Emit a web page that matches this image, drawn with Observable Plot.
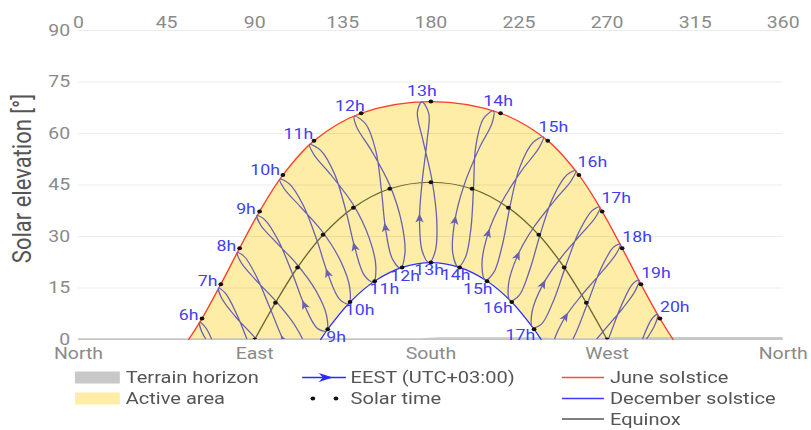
<!DOCTYPE html>
<html>
<head>
<meta charset="utf-8">
<script src="https://cdn.jsdelivr.net/npm/d3@7"></script>
<script src="https://cdn.jsdelivr.net/npm/@observablehq/plot@0.6"></script>
<style>
  html, body { margin: 0; padding: 0; background: #fff; }
  #wrap { width: 687px; height: 430px; transform: scaleX(1.1805); transform-origin: 0 0; }
  #wrap svg { display: block; }
</style>
</head>
<body>
<div id="wrap"></div>
<script>
// ---------------- data ----------------
const hours = [6, 7, 8, 9, 10, 11, 12, 13, 14, 15, 16, 17, 18, 19, 20];
const months = ["Dec", "Jan", "Feb", "Mar", "Apr", "May", "Jun", "Jul", "Aug", "Sep", "Oct", "Nov"];

// analemma per clock hour (EEST), one value per month (21st)
const analemmaAz = [
  [97.1, 91.9, 83.8, 77.1, 70.3, 65.0, 61.9, 63.1, 69.4, 79.1, 89.3, 96.1],
  [106.7, 101.9, 94.4, 87.7, 80.7, 75.0, 71.6, 73.1, 79.8, 89.7, 99.6, 106.0],
  [116.4, 111.7, 104.7, 98.3, 91.0, 84.8, 81.2, 82.9, 90.1, 100.3, 110.1, 116.0],
  [126.6, 122.1, 115.5, 109.4, 102.0, 95.3, 91.2, 93.1, 101.0, 111.6, 121.3, 126.7],
  [137.9, 133.4, 127.4, 121.9, 114.8, 107.6, 102.9, 105.0, 113.6, 124.7, 134.0, 138.6],
  [150.5, 146.1, 141.1, 136.8, 130.8, 123.7, 118.1, 120.2, 129.3, 140.3, 148.6, 151.9],
  [164.4, 160.3, 156.8, 154.8, 151.9, 146.8, 141.0, 142.0, 150.0, 159.2, 165.2, 166.7],
  [179.1, 175.6, 174.2, 175.5, 178.0, 178.9, 175.4, 173.1, 176.0, 180.5, 183.0, 182.3],
  [193.9, 191.2, 192.2, 196.8, 204.6, 211.3, 211.9, 206.8, 202.9, 201.8, 200.5, 197.7],
  [207.9, 206.1, 209.1, 216.1, 226.5, 235.1, 237.4, 232.2, 225.3, 220.5, 216.5, 212.1],
  [220.6, 219.6, 224.1, 232.2, 243.2, 251.5, 254.0, 249.6, 242.3, 236.0, 230.4, 225.0],
  [232.1, 231.7, 237.1, 245.6, 256.3, 264.0, 266.2, 262.5, 255.6, 248.9, 242.5, 236.5],
  [242.4, 242.6, 248.5, 257.2, 267.5, 274.5, 276.6, 273.2, 266.9, 260.3, 253.4, 247.0],
  [252.2, 252.6, 259.1, 267.9, 277.9, 284.4, 286.2, 283.1, 277.3, 270.8, 263.8, 256.9],
  [261.7, 262.4, 269.4, 278.4, 288.2, 294.3, 295.8, 292.9, 287.6, 281.4, 274.2, 266.8]
];
const analemmaEl = [
  [-27.2, -27.4, -21.5, -12.8, -2.9, 3.4, 5.0, 2.1, -3.5, -9.9, -16.6, -22.8],
  [-16.7, -16.7, -10.8, -2.2, 7.5, 13.5, 14.9, 12.1, 6.9, 0.8, -5.9, -12.2],
  [-6.7, -6.4, -0.2, 8.5, 18.2, 24.1, 25.3, 22.6, 17.6, 11.5, 4.5, -2.2],
  [2.5, 3.2, 9.9, 19.0, 28.9, 34.8, 36.1, 33.3, 28.3, 21.9, 14.2, 7.0],
  [10.4, 11.7, 19.1, 28.7, 39.1, 45.4, 46.7, 44.0, 38.5, 31.3, 22.7, 14.9],
  [16.7, 18.6, 26.8, 37.0, 48.2, 55.1, 56.8, 53.9, 47.7, 39.3, 29.4, 21.1],
  [20.8, 23.5, 32.4, 43.1, 54.9, 62.7, 65.1, 62.0, 54.7, 44.7, 33.7, 24.9],
  [22.4, 25.7, 35.1, 45.8, 57.7, 65.9, 69.2, 66.2, 57.9, 46.6, 34.8, 25.9],
  [21.2, 25.1, 34.5, 44.7, 55.6, 63.1, 66.6, 64.3, 56.1, 44.5, 32.6, 24.0],
  [17.3, 21.6, 30.7, 39.9, 49.3, 55.7, 59.0, 57.4, 50.0, 39.0, 27.5, 19.5],
  [11.3, 15.8, 24.2, 32.4, 40.5, 46.1, 49.2, 48.0, 41.3, 30.9, 20.1, 12.8],
  [3.5, 8.1, 15.9, 23.2, 30.4, 35.5, 38.6, 37.6, 31.3, 21.4, 11.1, 4.5],
  [-5.6, -1.0, 6.4, 13.0, 19.8, 24.8, 27.8, 26.8, 20.7, 11.0, 1.1, -5.0],
  [-15.5, -10.9, -4.0, 2.3, 9.0, 14.2, 17.3, 16.2, 9.9, 0.3, -9.4, -15.2],
  [-25.9, -21.4, -14.7, -8.4, -1.5, 4.1, 7.3, 6.0, -0.6, -10.4, -20.2, -25.9]
];

// solstice / equinox day paths (sunrise, whole solar hours, sunset)
const juneAz = [56.3, 63.1, 72.7, 82.3, 92.5, 104.4, 120.3, 144.4, 180.0, 215.6, 239.7, 255.6, 267.5, 277.7, 287.3, 297.0, 303.7];
const juneEl = [0, 6.1, 16.1, 26.6, 37.3, 47.9, 57.9, 65.9, 69.3, 65.9, 57.9, 47.9, 37.3, 26.6, 16.1, 6.1, 0];
const decAz = [123.7, 127.3, 138.7, 151.3, 165.3, 180.0, 194.7, 208.7, 221.3, 232.7, 236.3];
const decEl = [0, 3.0, 10.9, 17.0, 21.0, 22.4, 21.0, 17.0, 10.9, 3.0, 0];
const equinoxAz = [90.0, 100.6, 111.9, 124.9, 140.4, 159.0, 180.0, 201.0, 219.6, 235.1, 248.1, 259.4, 270.0];
const equinoxEl = [0, 10.7, 21.0, 30.5, 38.4, 43.9, 45.8, 43.9, 38.4, 30.5, 21.0, 10.7, 0];

// terrain horizon (very low)
const terrainAz = [0, 175, 185, 235, 245, 265, 275, 360];
const terrainEl = [0.2, 0.2, 0.5, 0.5, 0.2, 0.2, 0.6, 0.6];

// axes
const elevationTicks = [0, 15, 30, 45, 60, 75, 90];
const azimuthTicks = [0, 45, 90, 135, 180, 225, 270, 315, 360];
const compassTicks = [0, 90, 180, 270, 360];
const compassNames = ["North", "East", "South", "West", "North"];
const yTitle = "Solar elevation [°]";
const legendLabels = ["Terrain horizon", "Active area", "EEST (UTC+03:00)", "Solar time", "June solstice", "December solstice", "Equinox"];

// ---------------- build ----------------
const W = 687, H = 364, ML = 66, MR = 24, MT = 30, MB = 25;
const kx = (W - ML - MR) / 360, ky = (H - MT - MB) / 90;

const toRows = (az, el) => az.map((a, i) => ({az: a, el: el[i]}));
const june = toRows(juneAz, juneEl);
const dec = toRows(decAz, decEl);
const equinox = toRows(equinoxAz, equinoxEl);
const terrain = toRows(terrainAz, terrainEl);

const anaRows = hours.flatMap((h, i) => months.map((m, j) => ({hour: h, month: m, az: analemmaAz[i][j], el: analemmaEl[i][j]})));
const arrows = hours.map((h, i) => {
  const A = analemmaAz[i], E = analemmaEl[i];
  const rot = Math.atan2((A[3] - A[1]) * kx, (E[3] - E[1]) * ky) * 180 / Math.PI;
  return {hour: h, az: A[2], el: E[2], rot};
});
const solarDots = [...june.slice(1, -1), ...dec.slice(1, -1), ...equinox];

const juneLabels = hours.map((h, i) => ({hour: h, label: h + "h", az: analemmaAz[i][6], el: analemmaEl[i][6]}));
const decLabels = hours.map((h, i) => ({hour: h, label: h + "h", az: analemmaAz[i][0], el: analemmaEl[i][0]})).filter(d => d.el > 0);

const juneStyles = [
  {sel: [6, 7, 8, 9], textAnchor: "end", dx: -1, dy: -2},
  {sel: [10], textAnchor: "end", dx: 0, dy: -4},
  {sel: [11], textAnchor: "end", dx: 3, dy: -5},
  {sel: [12], textAnchor: "middle", dx: -4, dy: -5},
  {sel: [13], textAnchor: "middle", dx: 0, dy: -6},
  {sel: [14], textAnchor: "middle", dx: 4, dy: -5},
  {sel: [15], textAnchor: "start", dx: -4, dy: -5},
  {sel: [16, 17], textAnchor: "start", dx: 1.5, dy: -3.5},
  {sel: [18, 19, 20], textAnchor: "start", dx: 2, dy: -2}
];
const decStyles = [
  {sel: [9], textAnchor: "start", dx: 0, dy: 0},
  {sel: [10, 11], textAnchor: "start", dx: -3, dy: 1},
  {sel: [12], textAnchor: "middle", dx: 4, dy: 2},
  {sel: [13], textAnchor: "middle", dx: 0, dy: 2},
  {sel: [14], textAnchor: "middle", dx: -2, dy: 3},
  {sel: [15], textAnchor: "end", dx: 6, dy: 3},
  {sel: [16, 17], textAnchor: "end", dx: 2, dy: 1.5}
];
const labelColor = "#3f3ff0";
const labelMarks = [
  ...juneStyles.map(s => Plot.text(juneLabels.filter(d => s.sel.includes(d.hour)), {
    x: "az", y: "el", text: "label", fill: labelColor, fontSize: 15,
    textAnchor: s.textAnchor, lineAnchor: "bottom", dx: s.dx, dy: s.dy
  })),
  ...decStyles.map(s => Plot.text(decLabels.filter(d => s.sel.includes(d.hour)), {
    x: "az", y: "el", text: "label", fill: labelColor, fontSize: 15,
    textAnchor: s.textAnchor, lineAnchor: "top", dx: s.dx, dy: s.dy
  }))
];

const arrowSymbol = {
  draw(ctx, size) {
    const r = Math.sqrt(size / Math.PI);
    ctx.moveTo(0, -1.6 * r);
    ctx.lineTo(r, r);
    ctx.lineTo(0, 0.35 * r);
    ctx.lineTo(-r, r);
    ctx.closePath();
  }
};

const anaColor = "#6a60b0";

const chart = Plot.plot({
  width: W, height: H,
  marginLeft: ML, marginRight: MR, marginTop: MT, marginBottom: MB,
  x: {domain: [0, 360]},
  y: {domain: [0, 90]},
  style: {fontFamily: "Roboto, sans-serif", fontSize: "16.5px", color: "#8a8a8a", background: "#fff"},
  marks: [
    Plot.areaY(june, {x: "az", y: "el", curve: "catmull-rom", fill: "#fdeda6"}),
    Plot.areaY(dec, {x: "az", y: "el", curve: "catmull-rom", fill: "#ffffff"}),
    Plot.ruleY(elevationTicks, {stroke: "#000", strokeOpacity: 0.075}),
    Plot.ruleY([0], {stroke: "#c4c4c4"}),
    Plot.areaY(terrain, {x: "az", y: "el", fill: "#c8c8c8"}),
    Plot.line(equinox, {x: "az", y: "el", curve: "catmull-rom", stroke: "#6c6834", strokeWidth: 1.2}),
    Plot.line(june, {x: "az", y: "el", curve: "catmull-rom", stroke: "#ff3d2e", strokeWidth: 1.2}),
    Plot.line(dec, {x: "az", y: "el", curve: "catmull-rom", stroke: "#3030ff", strokeWidth: 1.2}),
    Plot.line(anaRows, {x: "az", y: "el", z: "hour", curve: "catmull-rom-closed", stroke: anaColor, strokeWidth: 1.1, clip: true}),
    Plot.dot(arrows, {x: "az", y: "el", rotate: "rot", symbol: arrowSymbol, r: 3.5, fill: anaColor, stroke: "none", clip: true}),
    Plot.dot(solarDots, {x: "az", y: "el", r: 2, fill: "#111", stroke: "none", clip: true}),
    ...labelMarks,
    Plot.axisY(elevationTicks, {tickSize: 0, tickPadding: 7, label: null}),
    Plot.axisX(azimuthTicks, {anchor: "top", tickSize: 0, tickPadding: 3, label: null}),
    Plot.axisX(compassTicks, {anchor: "bottom", tickSize: 0, tickPadding: 8, label: null,
      tickFormat: d => compassNames[compassTicks.indexOf(d)]}),
    Plot.text([yTitle], {text: d => d, frameAnchor: "left", textAnchor: "middle", lineAnchor: "middle",
      rotate: -90, dx: -47, dy: -6.5, fontSize: 22, fill: "#555"})
  ]
});

// ---------------- legend ----------------
const leg = d3.create("svg")
  .attr("width", W).attr("height", 66)
  .attr("font-family", "Roboto, sans-serif").attr("font-size", 17).attr("fill", "#555");
const rowsY = [13.5, 34.5, 55];
const addText = (x, y, t) => leg.append("text").attr("x", x).attr("y", y).attr("dy", "0.35em").text(t);
// column 1
leg.append("rect").attr("x", 63.5).attr("y", rowsY[0] - 6).attr("width", 38).attr("height", 12).attr("fill", "#c8c8c8");
addText(106.5, rowsY[0], legendLabels[0]);
leg.append("rect").attr("x", 63.5).attr("y", rowsY[1] - 6).attr("width", 38).attr("height", 12).attr("fill", "#fdeda6");
addText(106.5, rowsY[1], legendLabels[1]);
// column 2
leg.append("line").attr("x1", 256).attr("x2", 293).attr("y1", rowsY[0]).attr("y2", rowsY[0]).attr("stroke", "#2b2bff").attr("stroke-width", 1.5);
leg.append("path").attr("d", `M282,${rowsY[0]} L270,${rowsY[0] - 4.5} L273.5,${rowsY[0]} L270,${rowsY[0] + 4.5} Z`).attr("fill", "#2b2bff");
addText(297, rowsY[0], legendLabels[2]);
leg.append("circle").attr("cx", 265).attr("cy", rowsY[1]).attr("r", 2).attr("fill", "#111");
leg.append("circle").attr("cx", 284.6).attr("cy", rowsY[1]).attr("r", 2).attr("fill", "#111");
addText(297, rowsY[1], legendLabels[3]);
// column 3
[["#ff4a40", 4], ["#3a3aff", 5], ["#555555", 6]].forEach(([c, k], i) => {
  leg.append("line").attr("x1", 476).attr("x2", 511.6).attr("y1", rowsY[i]).attr("y2", rowsY[i]).attr("stroke", c).attr("stroke-width", 1.5);
  addText(516.7, rowsY[i], legendLabels[k]);
});

const wrap = document.getElementById("wrap");
wrap.appendChild(chart);
wrap.appendChild(leg.node());
</script>
</body>
</html>
